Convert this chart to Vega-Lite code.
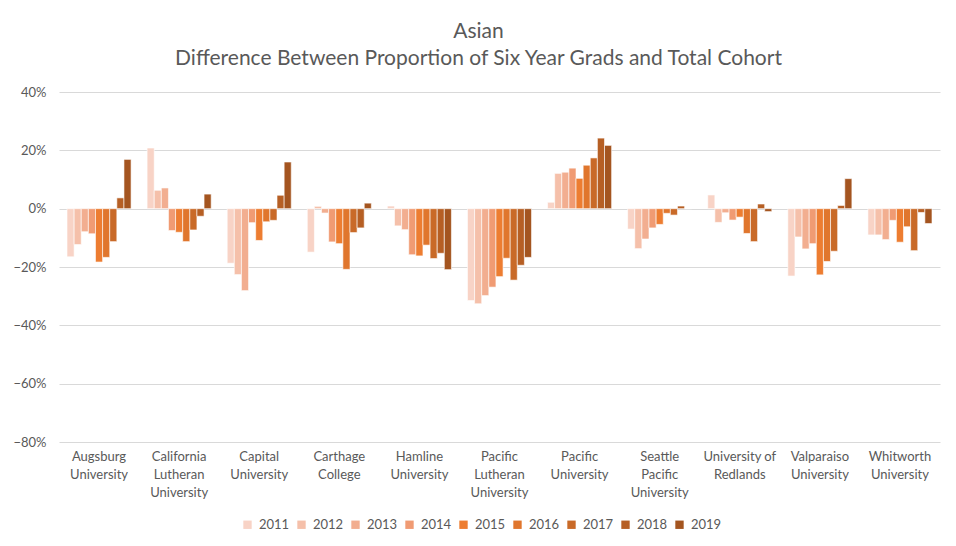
{
  "$schema": "https://vega.github.io/schema/vega-lite/v6.json",
  "width": 881,
  "height": 350,
  "autosize": {"type": "none"},
  "padding": {"left": 59, "top": 92, "right": 16, "bottom": 104},
  "background": "white",
  "title": {
    "text": ["Asian", "Difference Between Proportion of Six Year Grads and Total Cohort"],
    "font": "Lato",
    "fontSize": 21,
    "fontWeight": "normal",
    "color": "#595959",
    "lineHeight": 27,
    "anchor": "middle",
    "dx": -21,
    "offset": 17
  },
  "data": {
    "values": [
      {"u": "Augsburg University", "y": "2011", "v": -0.165},
      {"u": "Augsburg University", "y": "2012", "v": -0.123},
      {"u": "Augsburg University", "y": "2013", "v": -0.079},
      {"u": "Augsburg University", "y": "2014", "v": -0.086},
      {"u": "Augsburg University", "y": "2015", "v": -0.183},
      {"u": "Augsburg University", "y": "2016", "v": -0.167},
      {"u": "Augsburg University", "y": "2017", "v": -0.113},
      {"u": "Augsburg University", "y": "2018", "v": 0.037},
      {"u": "Augsburg University", "y": "2019", "v": 0.169},
      {"u": "California Lutheran University", "y": "2011", "v": 0.208},
      {"u": "California Lutheran University", "y": "2012", "v": 0.063},
      {"u": "California Lutheran University", "y": "2013", "v": 0.071},
      {"u": "California Lutheran University", "y": "2014", "v": -0.075},
      {"u": "California Lutheran University", "y": "2015", "v": -0.081},
      {"u": "California Lutheran University", "y": "2016", "v": -0.113},
      {"u": "California Lutheran University", "y": "2017", "v": -0.073},
      {"u": "California Lutheran University", "y": "2018", "v": -0.026},
      {"u": "California Lutheran University", "y": "2019", "v": 0.050},
      {"u": "Capital University", "y": "2011", "v": -0.187},
      {"u": "Capital University", "y": "2012", "v": -0.226},
      {"u": "Capital University", "y": "2013", "v": -0.281},
      {"u": "Capital University", "y": "2014", "v": -0.048},
      {"u": "Capital University", "y": "2015", "v": -0.109},
      {"u": "Capital University", "y": "2016", "v": -0.045},
      {"u": "Capital University", "y": "2017", "v": -0.040},
      {"u": "Capital University", "y": "2018", "v": 0.046},
      {"u": "Capital University", "y": "2019", "v": 0.160},
      {"u": "Carthage College", "y": "2011", "v": -0.149},
      {"u": "Carthage College", "y": "2012", "v": 0.008},
      {"u": "Carthage College", "y": "2013", "v": -0.015},
      {"u": "Carthage College", "y": "2014", "v": -0.114},
      {"u": "Carthage College", "y": "2015", "v": -0.120},
      {"u": "Carthage College", "y": "2016", "v": -0.208},
      {"u": "Carthage College", "y": "2017", "v": -0.082},
      {"u": "Carthage College", "y": "2018", "v": -0.066},
      {"u": "Carthage College", "y": "2019", "v": 0.019},
      {"u": "Hamline University", "y": "2011", "v": 0.009},
      {"u": "Hamline University", "y": "2012", "v": -0.059},
      {"u": "Hamline University", "y": "2013", "v": -0.072},
      {"u": "Hamline University", "y": "2014", "v": -0.158},
      {"u": "Hamline University", "y": "2015", "v": -0.162},
      {"u": "Hamline University", "y": "2016", "v": -0.125},
      {"u": "Hamline University", "y": "2017", "v": -0.171},
      {"u": "Hamline University", "y": "2018", "v": -0.153},
      {"u": "Hamline University", "y": "2019", "v": -0.209},
      {"u": "Pacific Lutheran University", "y": "2011", "v": -0.315},
      {"u": "Pacific Lutheran University", "y": "2012", "v": -0.326},
      {"u": "Pacific Lutheran University", "y": "2013", "v": -0.298},
      {"u": "Pacific Lutheran University", "y": "2014", "v": -0.269},
      {"u": "Pacific Lutheran University", "y": "2015", "v": -0.233},
      {"u": "Pacific Lutheran University", "y": "2016", "v": -0.170},
      {"u": "Pacific Lutheran University", "y": "2017", "v": -0.245},
      {"u": "Pacific Lutheran University", "y": "2018", "v": -0.194},
      {"u": "Pacific Lutheran University", "y": "2019", "v": -0.167},
      {"u": "Pacific University", "y": "2011", "v": 0.022},
      {"u": "Pacific University", "y": "2012", "v": 0.121},
      {"u": "Pacific University", "y": "2013", "v": 0.125},
      {"u": "Pacific University", "y": "2014", "v": 0.139},
      {"u": "Pacific University", "y": "2015", "v": 0.104},
      {"u": "Pacific University", "y": "2016", "v": 0.149},
      {"u": "Pacific University", "y": "2017", "v": 0.174},
      {"u": "Pacific University", "y": "2018", "v": 0.242},
      {"u": "Pacific University", "y": "2019", "v": 0.217},
      {"u": "Seattle Pacific University", "y": "2011", "v": -0.070},
      {"u": "Seattle Pacific University", "y": "2012", "v": -0.137},
      {"u": "Seattle Pacific University", "y": "2013", "v": -0.104},
      {"u": "Seattle Pacific University", "y": "2014", "v": -0.066},
      {"u": "Seattle Pacific University", "y": "2015", "v": -0.054},
      {"u": "Seattle Pacific University", "y": "2016", "v": -0.016},
      {"u": "Seattle Pacific University", "y": "2017", "v": -0.022},
      {"u": "Seattle Pacific University", "y": "2018", "v": 0.009},
      {"u": "Seattle Pacific University", "y": "2019", "v": 0.0},
      {"u": "University of Redlands", "y": "2011", "v": 0.047},
      {"u": "University of Redlands", "y": "2012", "v": -0.047},
      {"u": "University of Redlands", "y": "2013", "v": -0.014},
      {"u": "University of Redlands", "y": "2014", "v": -0.039},
      {"u": "University of Redlands", "y": "2015", "v": -0.029},
      {"u": "University of Redlands", "y": "2016", "v": -0.085},
      {"u": "University of Redlands", "y": "2017", "v": -0.113},
      {"u": "University of Redlands", "y": "2018", "v": 0.016},
      {"u": "University of Redlands", "y": "2019", "v": -0.010},
      {"u": "Valparaiso University", "y": "2011", "v": -0.231},
      {"u": "Valparaiso University", "y": "2012", "v": -0.097},
      {"u": "Valparaiso University", "y": "2013", "v": -0.138},
      {"u": "Valparaiso University", "y": "2014", "v": -0.120},
      {"u": "Valparaiso University", "y": "2015", "v": -0.227},
      {"u": "Valparaiso University", "y": "2016", "v": -0.181},
      {"u": "Valparaiso University", "y": "2017", "v": -0.146},
      {"u": "Valparaiso University", "y": "2018", "v": 0.011},
      {"u": "Valparaiso University", "y": "2019", "v": 0.103},
      {"u": "Whitworth University", "y": "2011", "v": -0.090},
      {"u": "Whitworth University", "y": "2012", "v": -0.090},
      {"u": "Whitworth University", "y": "2013", "v": -0.106},
      {"u": "Whitworth University", "y": "2014", "v": -0.040},
      {"u": "Whitworth University", "y": "2015", "v": -0.115},
      {"u": "Whitworth University", "y": "2016", "v": -0.062},
      {"u": "Whitworth University", "y": "2017", "v": -0.144},
      {"u": "Whitworth University", "y": "2018", "v": -0.013},
      {"u": "Whitworth University", "y": "2019", "v": -0.051}
    ]
  },
  "mark": {"type": "bar", "stroke": "white", "strokeWidth": 0.6},
  "encoding": {
    "x": {
      "field": "u",
      "type": "nominal",
      "sort": null,
      "title": null,
      "scale": {"paddingInner": 0.2, "paddingOuter": 0.1},
      "axis": {
        "orient": "bottom",
        "domain": false,
        "ticks": false,
        "labelAngle": 0,
        "labelFont": "Lato",
        "labelFontSize": 13,
        "labelColor": "#595959",
        "labelPadding": 8,
        "labelLineHeight": 18,
        "labelExpr": "datum.value == 'University of Redlands' ? ['University of', 'Redlands'] : split(datum.value, ' ')"
      }
    },
    "xOffset": {"field": "y", "type": "nominal", "sort": null},
    "y": {
      "field": "v",
      "type": "quantitative",
      "title": null,
      "scale": {"domain": [-0.8, 0.4], "nice": false, "zero": false},
      "axis": {
        "format": ".0%",
        "values": [-0.8, -0.6, -0.4, -0.2, 0, 0.2, 0.4],
        "domain": false,
        "ticks": false,
        "labelFont": "Lato",
        "labelFontSize": 13,
        "labelColor": "#595959",
        "labelPadding": 13,
        "gridColor": "#d9d9d9",
        "gridWidth": 1
      }
    },
    "color": {
      "field": "y",
      "type": "nominal",
      "title": null,
      "scale": {
        "domain": ["2011", "2012", "2013", "2014", "2015", "2016", "2017", "2018", "2019"],
        "range": ["#F8D3C6", "#F5C0AA", "#F2AE90", "#F09B73", "#ED7D31", "#E0762D", "#C96A28", "#B65F24", "#A45520"]
      },
      "legend": {
        "orient": "none",
        "legendX": 182,
        "legendY": 426,
        "direction": "horizontal",
        "symbolType": "square",
        "symbolSize": 70,
        "symbolStrokeWidth": 0,
        "labelFont": "Lato",
        "labelFontSize": 13,
        "labelColor": "#595959",
        "columnPadding": 5,
        "labelOffset": 5
      }
    }
  },
  "config": {
    "view": {"stroke": null},
    "axis": {"labelFont": "Lato"}
  }
}
